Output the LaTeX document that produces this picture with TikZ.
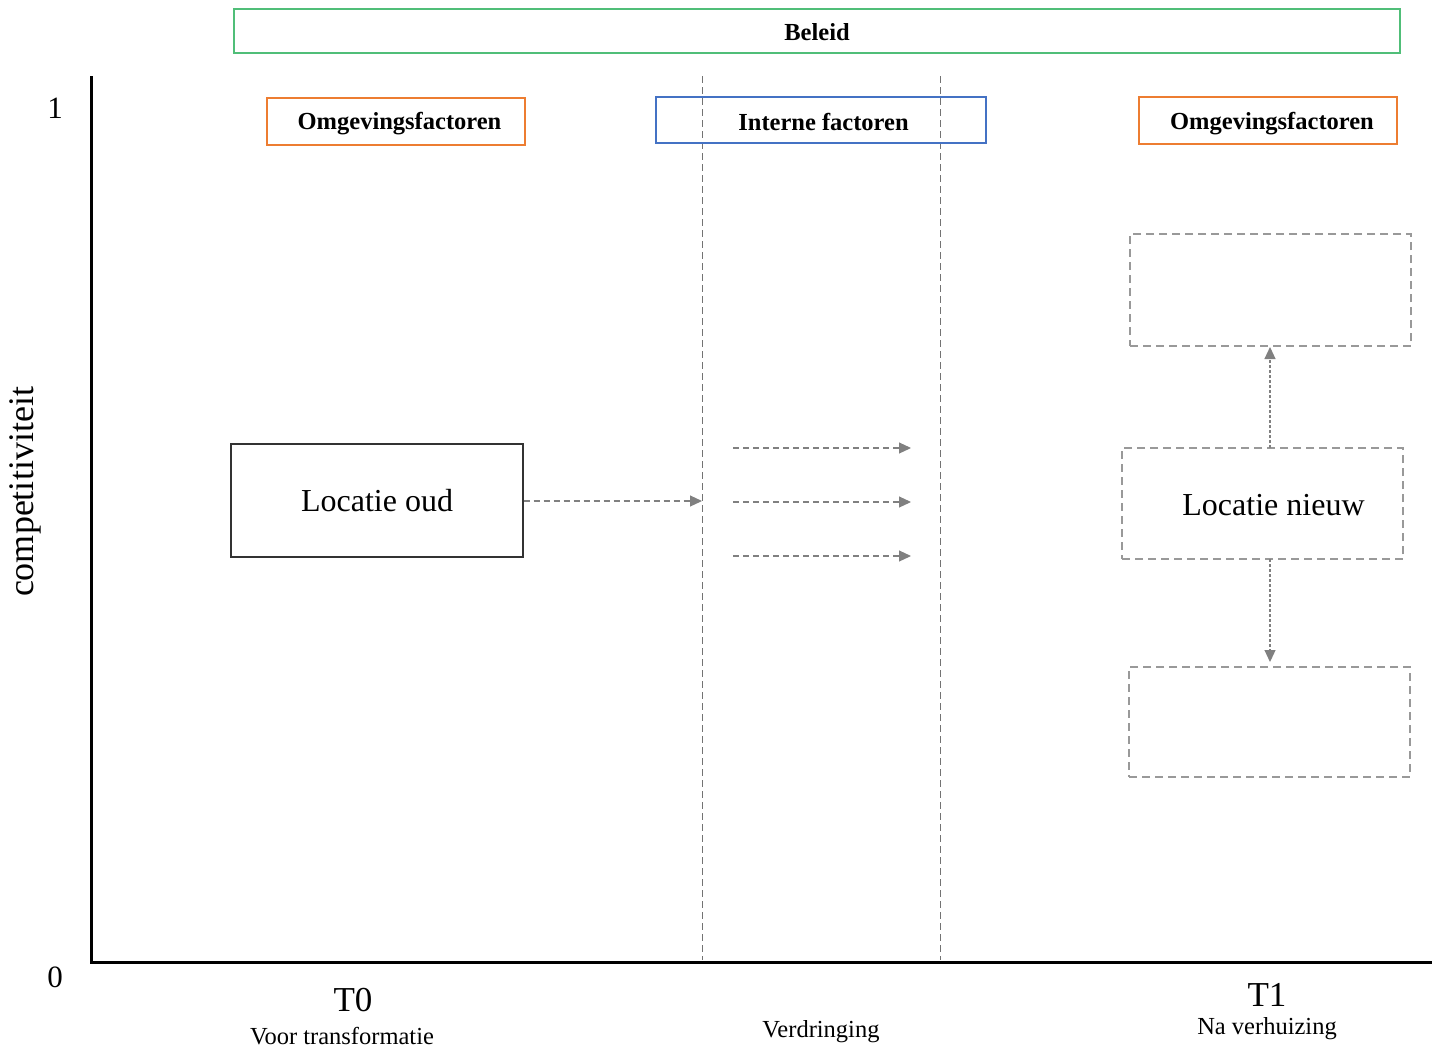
\documentclass[tikz,border=0pt]{standalone}
\usepackage{fontspec}
\setmainfont{Liberation Serif}
\usetikzlibrary{arrows.meta}
\definecolor{grn}{RGB}{80,190,120}
\definecolor{org}{RGB}{237,125,49}
\definecolor{blu}{RGB}{68,114,196}
\definecolor{gry}{RGB}{128,128,128}
\tikzset{
  x=1pt,y=-1pt,
  hdr/.style={draw,line width=1.2pt,font=\fontsize{24.5}{27}\selectfont\bfseries,inner sep=0pt},
  loc/.style={draw,inner sep=0pt,font=\fontsize{32}{35}\selectfont},
  ghost/.style={draw=gry!80,dash pattern=on 8pt off 5pt,line width=1.3pt,inner sep=0pt},
  conn/.style={draw=gry,dash pattern=on 6pt off 4pt,line width=1.1pt,-{Triangle[length=12pt,width=11pt]}},
  dotc/.style={draw=gry,dash pattern=on 3pt off 2pt,line width=1.1pt,-{Triangle[length=12pt,width=11pt]}},
  vline/.style={draw=gry!90!black,dash pattern=on 7pt off 4pt,line width=1pt},
  axlab/.style={font=\fontsize{31}{33}\selectfont},
  tlab/.style={font=\fontsize{35}{37}\selectfont},
  sub/.style={font=\fontsize{24.5}{27}\selectfont}
}
\begin{document}
\begin{tikzpicture}
\useasboundingbox[fill=white] (0,0) rectangle (1442,1050);
% Beleid
\node[hdr,draw=grn,minimum width=1166pt,minimum height=44pt] (beleid) at (817,31) {};
\node[hdr,draw=none] (beleidt) at (817,32) {Beleid};
% axes
\coordinate (origin) at (91,962);
\coordinate (ytop) at (91,76);
\coordinate (xend) at (1432,962);
\draw[line width=3pt] (ytop) -- (origin) -- (xend);
\node[axlab] (one) at (55,108) {1};
\node[axlab] (zero) at (55,977) {0};
\node[axlab,font=\fontsize{36}{38}\selectfont,rotate=90] (comp) at (25,492) {competitiviteit};
% dashed verticals
\coordinate (v1t) at (702,76); \coordinate (v1b) at (702,960);
\coordinate (v2t) at (940,76); \coordinate (v2b) at (940,960);
\draw[vline] (v1t) -- (v1b);
\draw[vline] (v2t) -- (v2b);
% headers
\node[hdr,draw=org,minimum width=258pt,minimum height=47pt] (omg1) at (396,121.5) {};
\node[hdr,draw=none] (omg1t) at (399.5,124) {Omgevingsfactoren};
\node[hdr,draw=blu,minimum width=330pt,minimum height=46pt] (intern) at (821,120) {};
\node[hdr,draw=none] (internt) at (823.5,122) {Interne factoren};
\node[hdr,draw=org,minimum width=258pt,minimum height=47pt] (omg2) at (1268,120.5) {};
\node[hdr,draw=none] (omg2t) at (1272,124) {Omgevingsfactoren};
% Locatie oud
\node[loc,draw=black!80,line width=1.3pt,minimum width=292pt,minimum height=113pt] (oud) at (377,500.5) {Locatie oud};
\coordinate (oudend) at (702,501);
\draw[conn] (oud.east |- oudend) -- (oudend);
% three arrows
\foreach \yy/\nm in {448/a,502/b,556/c}{
  \coordinate (s\nm) at (733,\yy);
  \coordinate (e\nm) at (911,\yy);
  \draw[conn] (s\nm) -- (e\nm);
}
% right boxes
\node[ghost,minimum width=281pt,minimum height=111pt] (nieuw) at (1262.5,503.5) {};
\node[loc,draw=none] (nieuwt) at (1273.5,505) {Locatie nieuw};
\node[ghost,minimum width=281pt,minimum height=112pt] (boven) at (1270.5,290) {};
\node[ghost,minimum width=281pt,minimum height=110pt] (onder) at (1269.5,722) {};
\coordinate (nt) at (1270,448); \coordinate (nb) at (1270,559);
\coordinate (bt) at (1270,347); \coordinate (ob) at (1270,662);
\draw[dotc] (nt) -- (bt);
\draw[dotc] (nb) -- (ob);
% bottom labels
\node[tlab] (t0) at (353,1000) {T0};
\node[sub] (t0s) at (342,1036) {Voor transformatie};
\node[sub] (verd) at (821,1032) {Verdringing};
\node[tlab] (t1) at (1267,995) {T1};
\node[sub] (t1s) at (1267,1029) {Na verhuizing};
\end{tikzpicture}
\end{document}
